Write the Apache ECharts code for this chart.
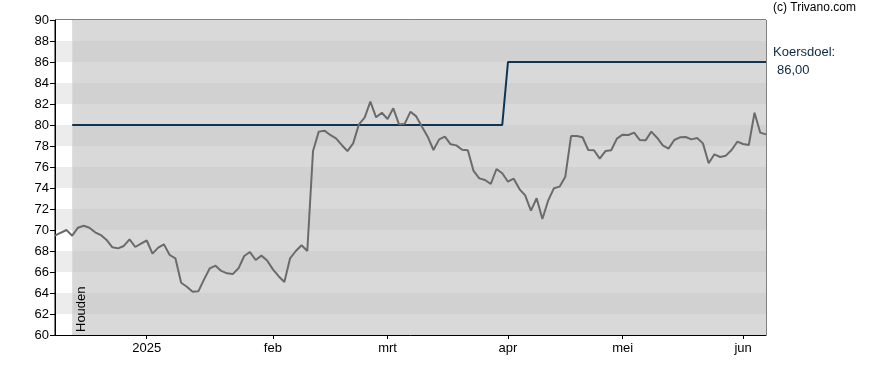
<!DOCTYPE html>
<html>
<head>
<meta charset="utf-8">
<script src="https://cdn.jsdelivr.net/npm/echarts@6/dist/echarts.min.js"></script>
<style>
html,body{margin:0;padding:0;background:#fff;}
#chart{width:888px;height:370px;}
</style>
</head>
<body>
<div id="chart"></div>
<script>
// ---- data ----
const startDate = '2024-12-06';
const endDate = '2025-06-06';
const holidays = ['2024-12-25','2024-12-26','2025-01-01','2025-04-18','2025-04-21','2025-05-01'];
const monthLabels = ['2025','feb','mrt','apr','mei','jun']; // Jan..Jun
const price = [
69.46,69.74,70.0,69.46,70.22,70.41,70.22,69.78,69.52,69.05,
68.35,68.25,68.48,69.11,68.38,68.7,69.0,67.75,68.32,68.63,
67.62,67.3,64.98,64.6,64.13,64.16,65.3,66.35,66.6,66.1,
65.87,65.8,66.35,67.52,67.9,67.14,67.56,67.1,66.25,65.6,
65.05,67.3,68.0,68.55,68.0,77.52,79.37,79.46,79.05,78.73,
78.1,77.52,78.25,80.06,80.7,82.22,80.73,81.17,80.57,81.59,
80.06,80.13,81.27,80.82,79.84,78.89,77.62,78.63,78.89,78.16,
78.06,77.65,77.59,75.62,74.92,74.76,74.38,75.81,75.4,74.6,
74.89,73.9,73.3,71.84,73.02,71.05,72.79,73.97,74.13,75.08,
78.95,78.95,78.83,77.62,77.59,76.8,77.52,77.6,78.7,79.08,
79.05,79.27,78.57,78.54,79.37,78.79,78.06,77.75,78.57,78.83,
78.86,78.63,78.76,78.25,76.35,77.21,76.95,77.08,77.62,78.41,
78.19,78.1,81.17,79.27,79.11
];
const targetSteps = [{from:'2024-12-11', value:80},{from:'2025-04-01', value:86}];
const adviceStart = '2024-12-11';
const adviceText = 'Houden';
const yTicks = {min:60, max:90, step:2};

// ---- build trading-day categories ----
const dates = [];
(function(){
  let d = new Date(startDate + 'T00:00:00Z');
  const e = new Date(endDate + 'T00:00:00Z');
  while (d <= e) {
    const s = d.toISOString().slice(0,10);
    const wd = d.getUTCDay();
    if (wd !== 0 && wd !== 6 && holidays.indexOf(s) < 0) dates.push(s);
    d = new Date(d.getTime() + 86400000);
  }
})();
const isMonthStart = i => i > 0 && dates[i].slice(5,7) !== dates[i-1].slice(5,7);
const target = dates.map(dt => {
  let v = null;
  targetSteps.forEach(s => { if (dt >= s.from) v = s.value; });
  return v;
});
const adviceIdx = dates.indexOf(adviceStart);
const last = dates.length - 1;

// background bands
const bandAreas = [];
for (let y = yTicks.min, k = 0; y < yTicks.max; y += yTicks.step, k++) {
  bandAreas.push([{xAxis: dates[0], yAxis: y, itemStyle:{color: k%2 ? '#ececec' : '#ffffff'}},
                  {xAxis: dates[adviceIdx], yAxis: y + yTicks.step}]);
  bandAreas.push([{xAxis: dates[adviceIdx], yAxis: y, itemStyle:{color: k%2 ? '#d1d1d1' : '#d9d9d9'}},
                  {xAxis: dates[last], yAxis: y + yTicks.step}]);
}

const chart = echarts.init(document.getElementById('chart'), null, {renderer:'canvas'});
const font = 'Arial, "Liberation Sans", sans-serif';
chart.setOption({
  animation: false,
  textStyle: {fontFamily: font},
  grid: {left:55, top:20, right:122, bottom:35, show:true, borderColor:'#000', borderWidth:1, z:1},
  xAxis: {
    type:'category', data: dates, boundaryGap:false, z:1,
    axisLine:{lineStyle:{color:'#000', width:1}},
    axisTick:{show:true, length:4, interval:(i)=>isMonthStart(i), lineStyle:{color:'#000'}},
    axisLabel:{interval:(i)=>isMonthStart(i), margin:7, color:'#000', fontSize:13, fontFamily:font,
      formatter:(v)=>monthLabels[parseInt(v.slice(5,7),10)-1]},
    splitLine:{show:true, interval:(i)=>isMonthStart(i), lineStyle:{color:'#000', type:[1,2], width:1}}
  },
  yAxis: {
    type:'value', min:yTicks.min, max:yTicks.max, interval:yTicks.step, z:1,
    axisLine:{show:true, lineStyle:{color:'#000', width:1}},
    axisTick:{show:true, length:5, lineStyle:{color:'#000'}},
    axisLabel:{color:'#000', fontSize:13, margin:6, fontFamily:font},
    splitLine:{show:false}
  },
  series: [
    {type:'line', data:[], z:0, silent:true,
     markArea:{silent:true, data:bandAreas}},
    {type:'line', data: target, symbol:'none', z:3,
     lineStyle:{color:'#0e3654', width:2}},
    {type:'line', data: price, symbol:'none', z:4,
     lineStyle:{color:'#6b6b6b', width:2}}
  ],
  graphic: [
    {type:'text', left:773, top:2, style:{text:'(c) Trivano.com', font:'12px '+font, fill:'#000'}},
    {type:'text', left:773, top:46, style:{text:'Koersdoel:', font:'13px '+font, fill:'#0b2a45'}},
    {type:'text', left:777, top:64, style:{text: target[last].toFixed(2).replace('.',','), font:'13px '+font, fill:'#0b2a45'}},
    {type:'text', x:75, y:332, rotation:Math.PI/2, z:10,
     style:{text:adviceText, font:'13px '+font, fill:'#000', textAlign:'left', textVerticalAlign:'top'}}
  ]
});
</script>
</body>
</html>
